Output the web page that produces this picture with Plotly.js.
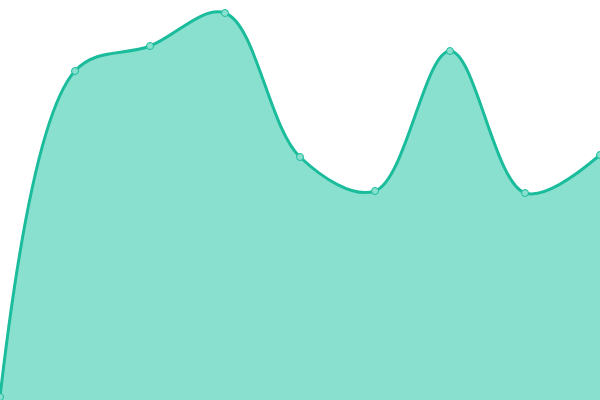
<!DOCTYPE html>
<html>
<head>
<meta charset="utf-8">
<script src="https://cdn.plot.ly/plotly-3.0.1.min.js"></script>
<style>
  html, body { margin: 0; padding: 0; background: #fff; }
  #chart { width: 600px; height: 400px; }
</style>
</head>
<body>
<div id="chart"></div>
<script>
// values
const xs = [0, 1, 2, 3, 4, 5, 6, 7, 8];
const values = [3, 329, 354, 387, 243, 209, 349, 207, 245];

const trace = {
  x: xs,
  y: values,
  type: 'scatter',
  mode: 'lines+markers',
  fill: 'tozeroy',
  fillcolor: '#8ae0cf',
  line: { color: '#1abc9c', width: 3, shape: 'spline', smoothing: 1 },
  marker: {
    size: 7,
    color: '#8ae0cf',
    line: { color: '#1abc9c', width: 1 },
  },
  cliponaxis: true,
  hoverinfo: 'none',
};

const layout = {
  width: 600,
  height: 400,
  margin: { l: 0, r: 0, t: 0, b: 0 },
  paper_bgcolor: '#fff',
  plot_bgcolor: '#fff',
  showlegend: false,
  xaxis: { range: [0, 8], visible: false, fixedrange: true },
  yaxis: { range: [0, 400], visible: false, fixedrange: true },
};

Plotly.newPlot('chart', [trace], layout, { displayModeBar: false, staticPlot: true });
</script>
</body>
</html>
